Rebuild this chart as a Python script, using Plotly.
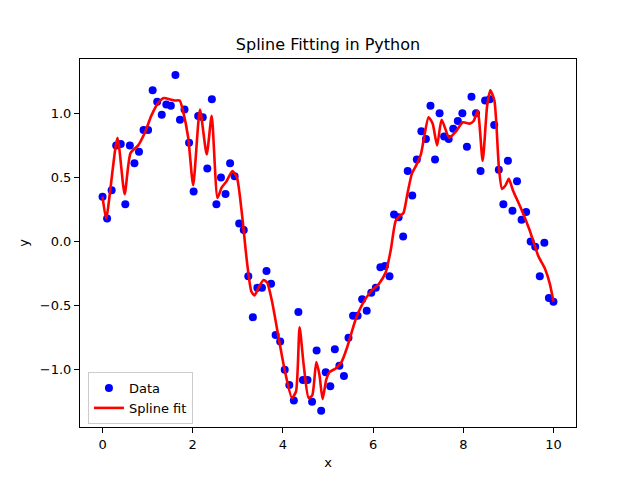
import plotly.graph_objects as go

n_points = 100
x_data = [i * 10 / 99 for i in range(n_points)]
y_data = [
    0.35, 0.18, 0.40, 0.75, 0.76, 0.29, 0.75, 0.61, 0.70, 0.87,
    0.87, 1.18, 1.09, 0.99, 1.07, 1.06, 1.30, 0.95, 1.03, 0.77,
    0.39, 0.98, 0.97, 0.57, 1.11, 0.29, 0.50, 0.37, 0.61, 0.51,
    0.14, 0.09, -0.27, -0.59, -0.36, -0.36, -0.23, -0.33, -0.73, -0.78,
    -1.00, -1.12, -1.24, -0.55, -1.08, -1.08, -1.25, -0.85, -1.32, -1.02,
    -1.13, -0.84, -0.97, -1.05, -0.75, -0.58, -0.58, -0.45, -0.54, -0.40,
    -0.36, -0.20, -0.19, -0.27, 0.21, 0.19, 0.04, 0.55, 0.36, 0.64,
    0.86, 0.80, 1.06, 0.64, 1.00, 0.82, 0.80, 0.88, 0.94, 1.00,
    0.74, 1.13, 1.00, 0.55, 1.10, 1.11, 0.91, 0.56, 0.29, 0.63,
    0.24, 0.47, 0.17, 0.23, 0.00, -0.04, -0.27, -0.01, -0.44, -0.47,
]

x_spline = [
    0.00, 0.08, 0.33, 0.49, 0.62, 0.79, 0.94, 1.08, 1.23, 1.36,
    1.49, 1.60, 1.71, 1.79, 1.90, 2.01, 2.16, 2.31, 2.42, 2.55,
    2.64, 2.75, 2.88, 2.98, 3.09, 3.20, 3.30, 3.37, 3.46, 3.57,
    3.65, 3.76, 3.91, 4.05, 4.20, 4.29, 4.37, 4.46, 4.57, 4.65,
    4.74, 4.81, 4.88, 4.96, 5.03, 5.17, 5.30, 5.43, 5.61, 5.76,
    5.95, 6.13, 6.28, 6.39, 6.50, 6.59, 6.67, 6.76, 6.86, 6.95,
    7.06, 7.13, 7.23, 7.32, 7.42, 7.52, 7.69, 7.84, 7.99, 8.14,
    8.23, 8.32, 8.43, 8.53, 8.60, 8.69, 8.79, 8.86, 8.94, 9.01,
    9.10, 9.29, 9.47, 9.66, 9.81, 9.92, 10.00,
]
y_spline = [
    0.35, 0.18, 0.81, 0.37, 0.69, 0.75, 0.85, 0.98, 1.08, 1.12,
    1.11, 1.10, 1.10, 1.01, 0.81, 0.44, 1.03, 0.68, 0.98, 0.34,
    0.42, 0.47, 0.55, 0.50, 0.22, -0.15, -0.39, -0.42, -0.36, -0.30,
    -0.32, -0.47, -0.76, -1.02, -1.22, -1.17, -0.67, -0.96, -1.22, -1.20,
    -0.94, -1.04, -1.23, -1.08, -1.02, -0.99, -0.94, -0.82, -0.61, -0.49,
    -0.39, -0.33, -0.24, -0.07, 0.16, 0.20, 0.22, 0.37, 0.53, 0.59,
    0.68, 0.81, 0.97, 0.92, 0.75, 0.95, 0.81, 0.86, 0.93, 0.92,
    0.94, 1.02, 0.63, 1.06, 1.18, 1.10, 0.58, 0.41, 0.44, 0.49,
    0.40, 0.25, 0.09, -0.11, -0.21, -0.33, -0.47,
]

x_ticks = [0, 2, 4, 6, 8, 10]
y_ticks = [-1.0, -0.5, 0.0, 0.5, 1.0]

font_family = "DejaVu Sans"

fig = go.Figure()
fig.add_trace(go.Scatter(
    x=x_data, y=y_data, mode="markers", name="Data",
    marker=dict(color="#0000ff", size=8, line=dict(width=0)),
))
fig.add_trace(go.Scatter(
    x=x_spline, y=y_spline, mode="lines", name="Spline fit",
    line=dict(color="#ff0000", width=2.6, shape="spline", smoothing=0.6),
))

axis_common = dict(
    showline=True, linecolor="black", linewidth=1, mirror=True,
    ticks="outside", ticklen=5, tickwidth=1, tickcolor="black",
    showgrid=False, zeroline=False,
    tickfont=dict(family=font_family, size=13, color="black"),
)

# The page body adds an 8px margin, so the figure is 8px smaller and
# its top/left margins smaller to keep the plot area in place.
fig.update_layout(
    width=632, height=472,
    paper_bgcolor="white", plot_bgcolor="white",
    margin=dict(l=72, r=64, t=51, b=48),
    title=dict(text="Spline Fitting in Python", x=0.5, xref="paper",
               y=1, yref="paper", yanchor="bottom", pad=dict(b=9),
               font=dict(family=font_family, size=16, color="black")),
    font=dict(family=font_family, color="black"),
    showlegend=True,
    legend=dict(x=0.016, y=0.008, xanchor="left", yanchor="bottom",
                bgcolor="rgba(255,255,255,0.8)", bordercolor="#cccccc",
                borderwidth=1, font=dict(family=font_family, size=13)),
    xaxis=dict(range=[-0.5, 10.5], tickvals=x_ticks,
               title=dict(text="x", font=dict(family=font_family, size=13), standoff=7),
               **axis_common),
    yaxis=dict(range=[-1.447, 1.424], tickvals=y_ticks, tickformat=".1f",
               title=dict(text="y", font=dict(family=font_family, size=13), standoff=8),
               **axis_common),
)

fig.write_html("out.html")
